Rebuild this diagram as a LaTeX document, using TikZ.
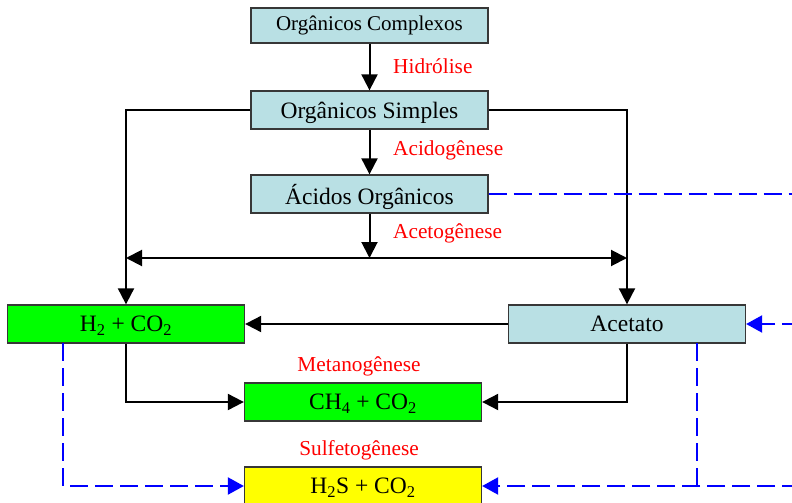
\documentclass[tikz,border=0pt]{standalone}
\usepackage{fontspec}
\setmainfont{Liberation Serif}
\usetikzlibrary{arrows.meta,calc}
\definecolor{lblue}{RGB}{185,224,228}
\definecolor{lgreen}{RGB}{0,255,0}
\definecolor{lyellow}{RGB}{255,255,0}
\definecolor{bord}{RGB}{55,55,55}
\definecolor{lred}{RGB}{255,0,0}
\definecolor{dblue}{RGB}{0,0,255}
\begin{document}
\begin{tikzpicture}[x=1pt,y=-1pt,
  box/.style={draw=bord, line width=1.3pt, minimum width=237pt, minimum height=38pt, inner sep=0pt},
  bluebox/.style={box, fill=lblue},
  greenbox/.style={box, fill=lgreen},
  yellowbox/.style={box, fill=lyellow},
  bigtxt/.style={font=\fontsize{23.5}{26}\selectfont, text depth=0pt},
  smalltxt/.style={font=\fontsize{21}{24}\selectfont},
  lbl/.style={text=lred, font=\fontsize{21.3}{24}\selectfont, inner sep=0pt},
  arr/.style={line width=2pt, -{Triangle[length=16pt,width=16pt]}},
  bd/.style={draw=dblue, line width=2.2pt, dash pattern=on 18pt off 7pt},
  barr/.style={bd, -{Triangle[length=16pt,width=17pt]}}
]
\useasboundingbox (0,0) rectangle (792,503);
\clip (0,0) rectangle (792,503);

% boxes
\node[bluebox, smalltxt, minimum height=35pt] (cx) at (369.5,25.5) {Orgânicos Complexos};
\node[bluebox, bigtxt] (si) at (369.5,110) {Orgânicos Simples};
\node[bluebox, bigtxt] (ao) at (369.5,194) {Ácidos Orgânicos};
\node[greenbox, bigtxt] (h2) at (126,324) {H\textsubscript{2} + CO\textsubscript{2}};
\node[bluebox, bigtxt] (ac) at (627,324) {Acetato};
\node[greenbox, bigtxt] (ch) at (363,402) {CH\textsubscript{4} + CO\textsubscript{2}};
\node[yellowbox, bigtxt] (hs) at (363,486) {H\textsubscript{2}S + CO\textsubscript{2}};

% labels
\node[lbl, anchor=west] (l1) at (393,66) {Hidrólise};
\node[lbl, anchor=west] (l2) at (393,150) {Acidogênese};
\node[lbl, anchor=west] (l3) at (393,233) {Acetogênese};
\node[lbl] (l4) at (359,366) {Metanogênese};
\node[lbl] (l5) at (359,450) {Sulfetogênese};

% helper coordinates
\coordinate (jl) at (126,258);
\coordinate (jr) at (627,258);
\coordinate (jm) at (369.5,258);
\coordinate (r1) at (800,194);
\coordinate (r2) at (800,324);
\coordinate (r3) at (800,486);
\coordinate (hb) at (63,343);
\coordinate (ab) at (697,343);

% black connectors
\draw[arr] (cx) -- (si);
\draw[arr] (si) -- (ao);
\draw[arr] (ao) -- (jm);
\draw[arr] (si.west) -| (h2.north);
\draw[arr] (si.east) -| (ac.north);
\draw[line width=2pt, {Triangle[length=16pt,width=16pt]}-{Triangle[length=16pt,width=16pt]}] (jl) -- (jr);
\draw[arr] (ac) -- (h2);
\draw[arr] (h2.south) |- (ch.west);
\draw[arr] (ac.south) |- (ch.east);

% blue dashed connectors
\draw[bd] (ao.east) -- (r1);
\draw[barr] (r2) -- (ac.east);
\draw[barr] (hb) |- (hs.west);
\draw[barr] (r3) -- (hs.east);
\draw[bd] (ab) -- (ab |- hs.east);
\end{tikzpicture}
\end{document}
